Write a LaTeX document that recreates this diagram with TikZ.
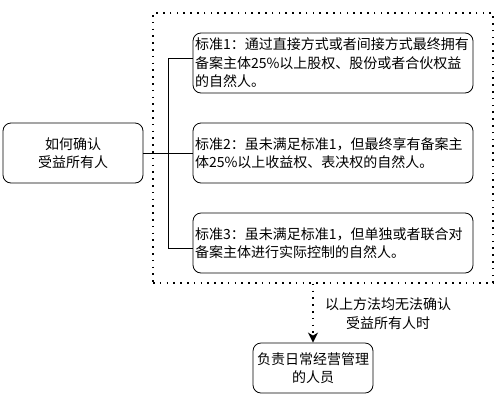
\documentclass[tikz,border=0pt]{standalone}
\usepackage{fontspec}
\setmainfont{Noto Sans CJK SC}
\usetikzlibrary{arrows.meta}
\begin{document}
\begin{tikzpicture}[x=1pt,y=-1pt,
  txt/.style={font=\fontsize{14pt}{18.5pt}\selectfont},
  box/.style={draw, rounded corners=8pt, line width=0.8pt, txt, inner sep=2pt},
  link/.style={line width=0.8pt},
  dotline/.style={line width=1.6pt, dash pattern=on 1.6pt off 5.2pt}]
\useasboundingbox[fill=white] (0,0) rectangle (502,402);
\node[draw, dotline, minimum width=340pt, minimum height=270pt, inner sep=0pt] (grp) at (323,148) {};
\node[box, minimum width=140pt, minimum height=60pt, align=center] (q) at (73,153) {如何确认\\受益所有人};
\node[box, minimum width=280pt, minimum height=60pt, text width=276pt, align=left] (s1) at (333,63)
  {标准1：通过直接方式或者间接方式最终拥有\\备案主体25\%以上股权、股份或者合伙权益\\的自然人。};
\node[box, minimum width=280pt, minimum height=60pt, text width=276pt, align=left] (s2) at (333,153)
  {标准2：虽未满足标准1，但最终享有备案主\\体25\%以上收益权、表决权的自然人。};
\node[box, minimum width=280pt, minimum height=60pt, text width=276pt, align=left] (s3) at (333,243)
  {标准3：虽未满足标准1，但单独或者联合对\\备案主体进行实际控制的自然人。};
\node[box, minimum width=120pt, minimum height=50pt, align=center] (res) at (313,368) {负责日常经营管理\\的人员};
\node[txt, align=center, inner sep=0pt] (lbl) at (388,313.5) {以上方法均无法确认\\受益所有人时};
\coordinate (j1) at (168,58);
\coordinate (j3) at (168,248);
\draw[link] (j1) -- (j3);
\draw[link] (j1) -- (s1.west |- j1);
\draw[link] (q.east) -- (s2.west);
\draw[link] (j3) -- (s3.west |- j3);
\draw[dotline, -{Stealth[length=10pt, width=10pt, inset=3pt]}] (grp.south -| res.north) -- (res.north);
\end{tikzpicture}
\end{document}
